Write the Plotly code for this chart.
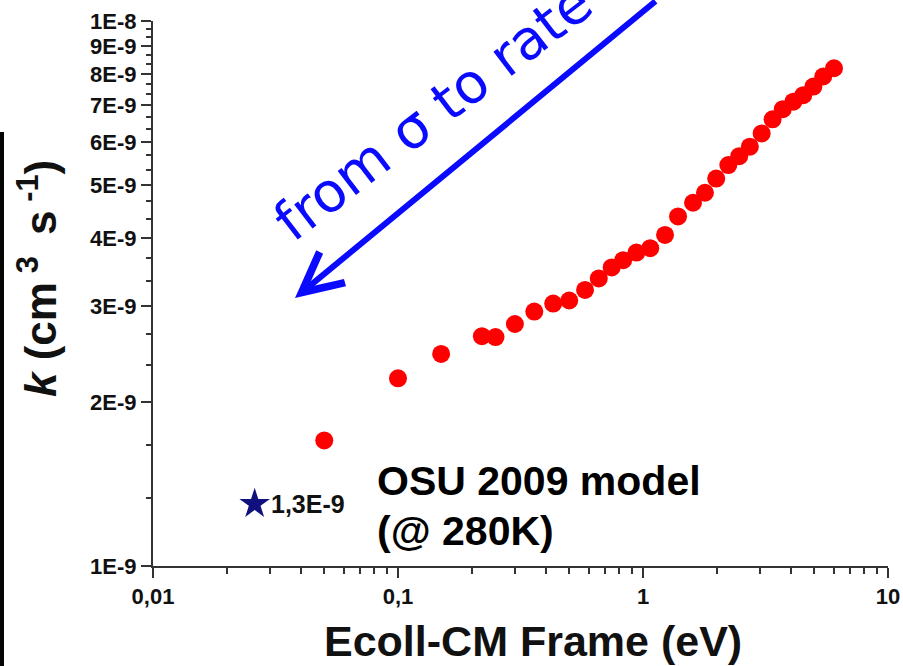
import math
import plotly.graph_objects as go

# Collision energy in the centre-of-mass frame (eV) and the derived rate coefficient k (cm^3 s^-1)
energy_ev = [0.05, 0.10, 0.15, 0.22, 0.25, 0.30, 0.36, 0.43, 0.50, 0.58, 0.66,
             0.745, 0.83, 0.94, 1.07, 1.23, 1.39, 1.60, 1.79, 1.99, 2.23, 2.47,
             2.73, 3.05, 3.38, 3.72, 4.11, 4.51, 4.96, 5.44, 6.02]
rate_k = [1.70e-9, 2.21e-9, 2.45e-9, 2.64e-9, 2.63e-9, 2.78e-9, 2.93e-9, 3.03e-9,
          3.07e-9, 3.21e-9, 3.37e-9, 3.53e-9, 3.64e-9, 3.76e-9, 3.83e-9, 4.05e-9,
          4.38e-9, 4.64e-9, 4.84e-9, 5.14e-9, 5.44e-9, 5.65e-9, 5.88e-9, 6.22e-9,
          6.60e-9, 6.89e-9, 7.11e-9, 7.31e-9, 7.58e-9, 7.91e-9, 8.19e-9]

# OSU 2009 model value at 280 K
model_energy = [0.026]
model_k = [1.3e-9]
model_label = "1,3E-9"

# Tick labels
x_tickvals = [0.01, 0.1, 1, 10]
x_ticktext = ["0,01", "0,1", "1", "10"]
y_tickvals = [1e-9, 2e-9, 3e-9, 4e-9, 5e-9, 6e-9, 7e-9, 8e-9, 9e-9, 1e-8]
y_ticktext = ["1E-9", "2E-9", "3E-9", "4E-9", "5E-9", "6E-9", "7E-9", "8E-9", "9E-9", "1E-8"]

# Minor ticks: 2..9 per decade on x, two evenly spaced ticks between majors on y
x_minor = [m * d for d in (0.01, 0.1, 1) for m in range(2, 10)]
y_minor = [(i + f) * 1e-9 for i in range(1, 10) for f in (1 / 3, 2 / 3)]

W, H = 903, 666
L, R, T, B = 153, 888, 21, 566


def px(x):
    return (x - L) / (R - L)


def py(y):
    return (B - y) / (B - T)


FONT = "Liberation Sans, Arial, sans-serif"
AXIS_COLOR = "#333333"
TEXT_COLOR = "#111111"
BLUE = "#0a0aff"

fig = go.Figure()

fig.add_trace(go.Scatter(
    x=energy_ev, y=rate_k, mode="markers",
    marker=dict(color="#ff0000", size=18, line=dict(width=0)),
    showlegend=False, cliponaxis=False,
))

fig.add_trace(go.Scatter(
    x=model_energy, y=model_k, mode="markers",
    marker=dict(symbol="star", color="#10107f", size=23, line=dict(width=0)),
    showlegend=False, cliponaxis=False,
))

axis_common = dict(
    type="log", showgrid=False, zeroline=False, showline=True,
    linecolor=AXIS_COLOR, linewidth=2, ticks="outside", ticklen=10,
    tickwidth=2, tickcolor=AXIS_COLOR, automargin=False,
)

fig.update_xaxes(
    **axis_common,
    range=[-2, 1], tickmode="array", tickvals=x_tickvals, ticktext=x_ticktext,
    tickfont=dict(family=FONT, size=22, color=TEXT_COLOR, weight="bold"),
    minor=dict(tickmode="array", tickvals=x_minor, ticks="outside", ticklen=6,
               tickwidth=2, tickcolor=AXIS_COLOR),
)
fig.update_yaxes(
    **axis_common,
    range=[-9, -8], tickmode="array", tickvals=y_tickvals, ticktext=y_ticktext,
    tickfont=dict(family=FONT, size=22, color=TEXT_COLOR, weight="bold"),
    minor=dict(tickmode="array", tickvals=y_minor, ticks="outside", ticklen=5,
               tickwidth=2, tickcolor=AXIS_COLOR),
)

annotations = [
    # value label next to the model star
    dict(x=math.log10(model_energy[0]), y=math.log10(model_k[0]), xref="x", yref="y",
         text=model_label, showarrow=False, xanchor="left", yanchor="middle", xshift=14,
         font=dict(family=FONT, size=25, color=TEXT_COLOR, weight="bold")),
    dict(x=px(375), y=py(481), xref="paper", yref="paper", text="OSU 2009 model",
         showarrow=False, xanchor="left", yanchor="middle",
         font=dict(family=FONT, size=41, color="#000000", weight="bold")),
    dict(x=px(375), y=py(531), xref="paper", yref="paper", text="(@ 280K)",
         showarrow=False, xanchor="left", yanchor="middle",
         font=dict(family=FONT, size=41, color="#000000", weight="bold")),
    # axis titles
    dict(x=px(533), y=py(641), xref="paper", yref="paper", text="Ecoll-CM Frame (eV)",
         showarrow=False, xanchor="center", yanchor="middle",
         font=dict(family=FONT, size=43, color=TEXT_COLOR, weight="bold")),
    dict(x=px(37), y=py(279), xref="paper", yref="paper", textangle=-90,
         text="<i>k</i> (cm\u2009<sup>3</sup>\u2009 s\u2009<sup>-1</sup>)",
         showarrow=False, xanchor="center", yanchor="middle",
         font=dict(family=FONT, size=44, color=TEXT_COLOR, weight="bold")),
    # "from sigma to rate" arrow and caption
    dict(x=px(295), y=py(298), xref="paper", yref="paper", text="",
         showarrow=True, arrowhead=5, arrowwidth=6, arrowsize=1.3,
         arrowcolor=BLUE, ax=362, ay=-298, axref="pixel", ayref="pixel"),
    dict(x=px(433), y=py(112), xref="paper", yref="paper", text="from σ to rate",
         textangle=-37.5, showarrow=False, xanchor="center", yanchor="middle",
         font=dict(family="DejaVu Sans, Verdana, sans-serif", size=55, color=BLUE)),
]

shapes = [
    # dark strip along the left edge
    dict(type="rect", xref="paper", yref="paper", x0=px(0), x1=px(4), y0=py(666), y1=py(132),
         fillcolor="#050505", line=dict(width=0), layer="above"),
]

fig.update_layout(
    width=W, height=H, autosize=False,
    margin=dict(l=L, r=W - R, t=T, b=H - B, pad=0),
    paper_bgcolor="white", plot_bgcolor="white",
    annotations=annotations, shapes=shapes, showlegend=False,
)

fig.write_html("out.html")
